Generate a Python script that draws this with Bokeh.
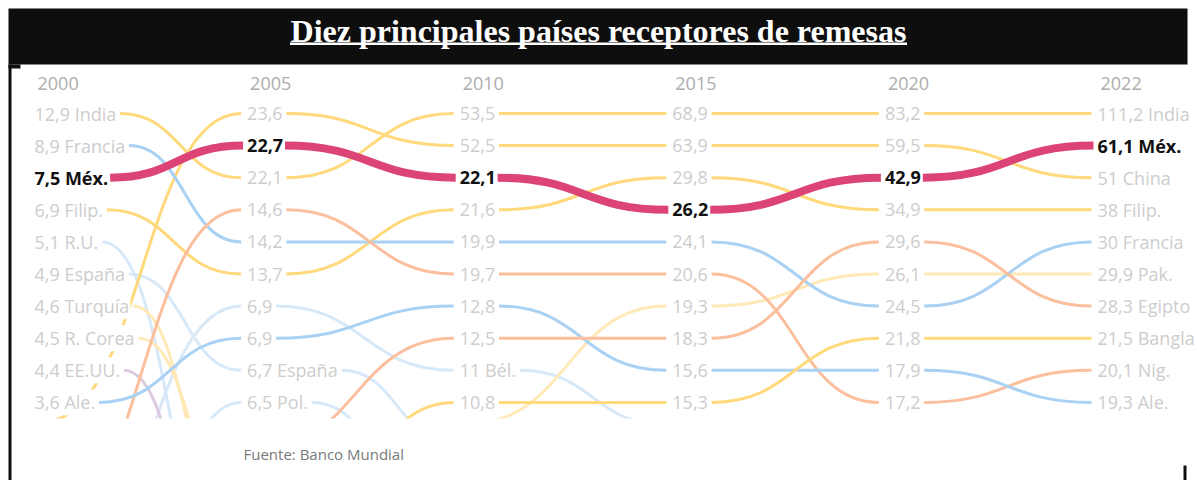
from bokeh.plotting import figure
from bokeh.models import Range1d, ColumnDataSource
from bokeh.core.properties import value
from bokeh.embed import file_html
from bokeh.resources import INLINE

# ---------------- datos ----------------
anios = [2000, 2005, 2010, 2015, 2020, 2022]

# remesas recibidas (miles de millones de USD); None = fuera del top 10
india      = [12.9, 22.1, 53.5, 68.9, 83.2, 111.2]
mexico     = [7.5, 22.7, 22.1, 26.2, 42.9, 61.1]
china      = [None, 23.6, 52.5, 63.9, 59.5, 51.0]
filipinas  = [6.9, 13.7, 21.6, 29.8, 34.9, 38.0]
francia    = [8.9, 14.2, 19.9, 24.1, 24.5, 30.0]
nigeria    = [None, 14.6, 19.7, 20.6, 17.2, 20.1]
belgica    = [None, 6.9, 11.0, None, None, None]
alemania   = [3.6, 6.9, 12.8, 15.6, 17.9, 19.3]
espana     = [4.9, 6.7, None, None, None, None]
polonia    = [None, 6.5, None, None, None, None]
reino_unido = [5.1, None, None, None, None, None]
turquia    = [4.6, None, None, None, None, None]
corea      = [4.5, None, None, None, None, None]
eeuu       = [4.4, None, None, None, None, None]
egipto     = [None, None, 12.5, 18.3, 29.6, 28.3]
bangladesh = [None, None, 10.8, 15.3, 21.8, 21.5]
pakistan   = [None, None, None, 19.3, 26.1, 29.9]

# puesto estimado fuera del top 10 (para las lineas que entran o salen)
china_fuera       = [10.6, None, None, None, None, None]
nigeria_fuera     = [14.0, None, None, None, None, None]
belgica_fuera     = [16.7, None, None, 10.7, None, None]
polonia_fuera     = [24.0, None, 13.9, None, None, None]
espana_fuera      = [None, None, 11.25, None, None, None]
reino_unido_fuera = [None, 16.3, None, None, None, None]
turquia_fuera     = [None, 14.2, None, None, None, None]
corea_fuera       = [None, 13.2, None, None, None, None]
eeuu_fuera        = [None, 17.4, None, None, None, None]
egipto_fuera      = [None, 11.5, None, None, None, None]
bangladesh_fuera  = [None, 15.4, None, None, None, None]
pakistan_fuera    = [None, None, 10.66, None, None, None]
sin_fuera         = [None] * 6

nombres = ["India", "Méx.", "China", "Filip.", "Francia", "Nig.", "Bél.", "Ale.",
           "España", "Pol.", "R.U.", "Turquía", "R. Corea", "EE.UU.", "Egipto",
           "Bangla", "Pak."]
series = [india, mexico, china, filipinas, francia, nigeria, belgica, alemania,
          espana, polonia, reino_unido, turquia, corea, eeuu, egipto, bangladesh, pakistan]
fuera = [sin_fuera, sin_fuera, china_fuera, sin_fuera, sin_fuera, nigeria_fuera,
         belgica_fuera, sin_fuera, espana_fuera, polonia_fuera, reino_unido_fuera,
         turquia_fuera, corea_fuera, eeuu_fuera, egipto_fuera, bangladesh_fuera,
         pakistan_fuera]
grupo = ["amarillo", "rosa", "amarillo", "amarillo", "azul", "naranja", "azul_claro",
         "azul", "azul_claro", "azul_claro", "azul_claro", "amarillo_claro",
         "amarillo_claro", "morado", "naranja", "amarillo", "amarillo_claro"]

titulo = "Diez principales países receptores de remesas"
fuente = "Fuente: Banco Mundial"

# ---------------- estilo ----------------
colores = {
    "amarillo": "#FFD97C", "amarillo_claro": "#FFE9B6",
    "azul": "#A9D1F4", "azul_claro": "#D7E9F9",
    "naranja": "#FBBF9E", "morado": "#DCCBE0", "rosa": "#DC4476",
}
FS = 18
W_REG = {c: 0.572 for c in "0123456789"}
W_REG.update({",": .245, ".": .266, " ": .26, "A": .633, "B": .648, "C": .631,
              "E": .556, "F": .516, "I": .276, "M": .903, "N": .754, "P": .604,
              "R": .635, "T": .556, "U": .728, "a": .556, "b": .613, "c": .476,
              "d": .613, "e": .561, "é": .561, "g": .548, "h": .614, "i": .253,
              "í": .253, "k": .525, "l": .253, "n": .614, "ñ": .614, "o": .604,
              "p": .613, "q": .613, "r": .408, "s": .477, "t": .353, "u": .614,
              "x": .513, "y": .5, "z": .477})
W_BOLD = dict(W_REG)
W_BOLD.update({",": .28, ".": .28, "M": .985, "é": .579, "x": .565})


def ancho(texto, negrita=False):
    tabla = W_BOLD if negrita else W_REG
    return sum(tabla.get(ch, .56) for ch in texto) * FS


def fmt(v):
    s = f"{v:.1f}".replace(".", ",")
    return s[:-2] if s.endswith(",0") else s


# geometria (pixeles de la imagen) -> coordenadas
FIG_W, FIG_H = 1197, 480
ROW0, ROW_H = 113.0, 32.1     # y de la fila 1, paso entre filas
COL0, COL_W = 33.0, 212.6     # x de la primera columna, paso


def ry(py):
    return 1.0 + (py - ROW0) / ROW_H


def colx(i):
    return COL0 + COL_W * i


n_col = len(anios)

# puestos por columna
puesto = [[None] * n_col for _ in series]
for i in range(n_col):
    presentes = [(-s[i], k) for k, s in enumerate(series) if s[i] is not None]
    presentes.sort()
    for r, (_, k) in enumerate(presentes):
        puesto[k][i] = r + 1

# etiquetas
etq = [[None] * n_col for _ in series]
for k, s in enumerate(series):
    for i in range(n_col):
        if s[i] is None:
            continue
        con_nombre = i == 0 or i == n_col - 1 or s[i + 1] is None
        etq[k][i] = fmt(s[i]) + (" " + nombres[k] if con_nombre else "")

# ---------------- figura ----------------
p = figure(width=FIG_W, height=FIG_H, output_backend="svg", toolbar_location=None,
           x_range=Range1d(0, FIG_W), y_range=Range1d(ry(FIG_H), ry(0)),
           x_axis_location=None, y_axis_location=None, min_border=0)
p.grid.visible = False
p.outline_line_color = None
p.background_fill_color = "white"
p.border_fill_color = "white"


def segmentos(filtro):
    d = dict(x0=[], y0=[], x1=[], y1=[], cx0=[], cy0=[], cx1=[], cy1=[], c=[])
    for k, s in enumerate(series):
        if not filtro(k):
            continue
        negrita = grupo[k] == "rosa"
        gap = 3 if negrita else 5
        for i in range(n_col - 1):
            a, b = s[i], s[i + 1]
            if a is not None and b is not None:
                x0 = colx(i) + ancho(etq[k][i], negrita) + gap
                y0 = puesto[k][i]
                x1 = colx(i + 1) - gap
                y1 = puesto[k][i + 1]
            elif a is not None and fuera[k][i + 1] is not None:
                x0 = colx(i) + ancho(etq[k][i], negrita) + gap
                y0 = puesto[k][i]
                x1 = colx(i + 1) - gap
                y1 = fuera[k][i + 1]
            elif b is not None and fuera[k][i] is not None:
                x0 = colx(i) + 10
                y0 = fuera[k][i]
                x1 = colx(i + 1) - gap
                y1 = puesto[k][i + 1]
            else:
                continue
            xm = (x0 + x1) / 2
            d["x0"].append(x0); d["y0"].append(y0)
            d["x1"].append(x1); d["y1"].append(y1)
            d["cx0"].append(xm); d["cy0"].append(y0)
            d["cx1"].append(xm); d["cy1"].append(y1)
            d["c"].append(colores[grupo[k]])
    return ColumnDataSource(d)


claros = {"amarillo_claro", "azul_claro", "morado"}
bz = dict(x0="x0", y0="y0", x1="x1", y1="y1", cx0="cx0", cy0="cy0", cx1="cx1",
          cy1="cy1", line_color="c")
p.bezier(line_width=3, source=segmentos(lambda k: grupo[k] in claros), **bz)
p.bezier(line_width=3,
         source=segmentos(lambda k: grupo[k] not in claros and grupo[k] != "rosa"), **bz)
p.bezier(line_width=8, source=segmentos(lambda k: grupo[k] == "rosa"), **bz)

# tapa inferior (recorte del area del grafico)
p.quad(left=11, right=FIG_W, top=ry(418), bottom=ry(FIG_H),
       fill_color="white", line_color=None)

# etiquetas de valores
lx, ly, lt, bx, by, bt = [], [], [], [], [], []
for k in range(len(series)):
    for i in range(n_col):
        if etq[k][i] is None:
            continue
        if grupo[k] == "rosa":
            bx.append(colx(i)); by.append(puesto[k][i]); bt.append(etq[k][i])
        else:
            lx.append(colx(i)); ly.append(puesto[k][i]); lt.append(etq[k][i])

p.text(x=lx, y=ly, text=lt, text_font=value("Open Sans"), text_font_size=f"{FS}px",
       text_color="#CDCDCD", text_baseline="middle", text_align="left",
       background_fill_color="white", padding=1)
p.text(x=bx, y=by, text=bt, text_font=value("Open Sans"), text_font_size=f"{FS}px",
       text_font_style="bold", text_color="#111111", text_baseline="middle",
       text_align="left", background_fill_color="white", padding=1)

# anios
p.text(x=[colx(i) + 4 for i in range(n_col)], y=[ry(83)] * n_col,
       text=[str(a) for a in anios], text_font=value("Open Sans"),
       text_font_size=f"{FS}px", text_color="#ADADAD", text_baseline="middle")

# fuente
p.text(x=[243], y=[ry(453)], text=[fuente], text_font=value("Open Sans"),
       text_font_size="15px", text_color="#7A7A7A", text_baseline="middle")

# barra de titulo
p.quad(left=8, right=1187, top=ry(8), bottom=ry(64), fill_color="#0E0E0E",
       line_color=None)
p.text(x=[598], y=[ry(30)], text=[titulo], text_font=value("Liberation Serif"),
       text_font_size="32px", text_font_style="bold", text_color="white",
       text_align="center", text_baseline="middle")
tw = 617
p.quad(left=598 - tw / 2, right=598 + tw / 2, top=ry(42), bottom=ry(44.5),
       fill_color="white", line_color=None)

# bordes
p.quad(left=8, right=11, top=ry(64), bottom=ry(FIG_H), fill_color="#0E0E0E",
       line_color=None)
p.quad(left=8, right=20, top=ry(64), bottom=ry(68), fill_color="#0E0E0E",
       line_color=None)
p.quad(left=1183, right=1186, top=ry(465), bottom=ry(FIG_H),
       fill_color="#0E0E0E", line_color=None)

open("out.html", "w").write(file_html(p, INLINE))
